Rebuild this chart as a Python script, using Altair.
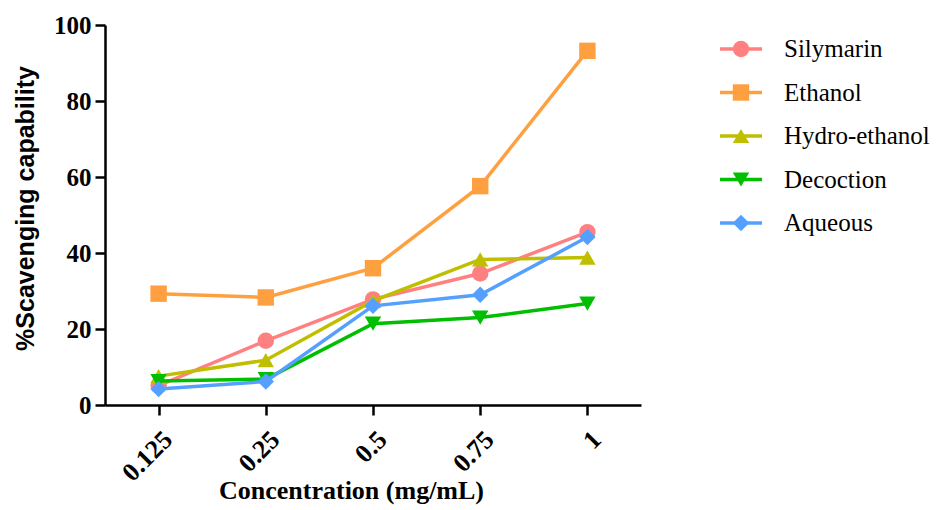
import altair as alt
import pandas as pd

# Concentrations (mg/mL) on the x axis
concentrations = ["0.125", "0.25", "0.5", "0.75", "1"]

# % scavenging capability per extract
series_names = ["Silymarin", "Ethanol", "Hydro-ethanol", "Decoction", "Aqueous"]
silymarin = [5.1, 16.9, 27.8, 34.6, 45.5]
ethanol = [29.3, 28.3, 36.0, 57.6, 93.2]
hydro_ethanol = [7.6, 11.8, 27.4, 38.3, 38.8]
decoction = [6.3, 6.8, 21.4, 23.0, 26.7]
aqueous = [4.2, 6.2, 26.1, 29.0, 44.2]

series_colors = ["#FF8080", "#FFA040", "#BFBF00", "#00BF00", "#55A0FF"]
series_shapes = ["circle", "square", "triangle-up", "triangle-down", "diamond"]

values = [silymarin, ethanol, hydro_ethanol, decoction, aqueous]
rows = []
for name, vals in zip(series_names, values):
    for c, v in zip(concentrations, vals):
        rows.append({"series": name, "conc": c, "value": v})
df = pd.DataFrame(rows)

SERIF = "Liberation Serif"
SANS = "Liberation Sans"

x_enc = alt.X(
    "conc:O",
    sort=concentrations,
    scale=alt.Scale(padding=0.5),
    axis=alt.Axis(
        title="Concentration (mg/mL)",
        labelAngle=-45,
        labelFont=SERIF,
        labelFontWeight="bold",
        labelFontSize=26,
        labelPadding=11,
        titleFont=SERIF,
        titleFontWeight="bold",
        titleFontSize=26,
        titleX=246,
        titleY=93,
        titleAlign="center",
        titleBaseline="alphabetic",
    ),
)
y_enc = alt.Y(
    "value:Q",
    scale=alt.Scale(domain=[0, 100], nice=False),
    axis=alt.Axis(
        title="%Scavenging capability",
        values=[0, 20, 40, 60, 80, 100],
        labelFont=SERIF,
        labelFontWeight="bold",
        labelFontSize=25,
        labelPadding=4,
        titleFont=SANS,
        titleFontWeight="bold",
        titleFontSize=25,
        titleX=-67,
        titleY=183,
        titleAlign="center",
        titleBaseline="bottom",
        titleAngle=270,
    ),
)

# One line + marker pair per series, drawn in series order
layers = []
for name, color, shape in zip(series_names, series_colors, series_shapes):
    base = alt.Chart(df[df["series"] == name])
    layers.append(base.mark_line(strokeWidth=3.5, color=color))
    layers.append(base.mark_point(filled=True, opacity=1, size=270, shape=shape, color=color))

main = alt.layer(*layers).encode(x=x_enc, y=y_enc)

# Legend: line segment with marker, then the series name
leg_df = pd.DataFrame({"series": series_names})
leg_y = alt.Y("series:N", sort=series_names, scale=alt.Scale(range=[2.25, 219.75], padding=0), axis=None)
leg_color = alt.Color("series:N", scale=alt.Scale(domain=series_names, range=series_colors), legend=None)
leg_shape = alt.Shape("series:N", scale=alt.Scale(domain=series_names, range=series_shapes), legend=None)
leg_base = alt.Chart(leg_df)
leg_rule = leg_base.mark_rule(strokeWidth=3.5).encode(
    x=alt.value(615), x2=alt.value(657), y=leg_y, color=leg_color
)
leg_pts = leg_base.mark_point(filled=True, opacity=1, size=270).encode(
    x=alt.value(636), y=leg_y, color=leg_color, shape=leg_shape
)
leg_text = leg_base.mark_text(align="left", baseline="middle", font=SERIF, fontSize=25, color="black").encode(
    x=alt.value(679), y=leg_y, text="series:N"
)
legend = alt.layer(leg_rule, leg_pts, leg_text)

chart = (
    alt.layer(main, legend)
    .resolve_scale(y="independent", color="independent", shape="independent")
    .properties(
        width=536,
        height=380,
        autosize="none",
        background="white",
        padding={"left": 105, "top": 25, "right": 302, "bottom": 105},
    )
    .configure_view(stroke="transparent", strokeWidth=0)
    .configure_axis(
        grid=False,
        domainColor="black",
        domainWidth=2.5,
        tickColor="black",
        tickWidth=2.5,
        tickSize=10,
        labelColor="black",
        titleColor="black",
    )
)

chart.save("out.html", embed_options={"renderer": "svg", "actions": False})
